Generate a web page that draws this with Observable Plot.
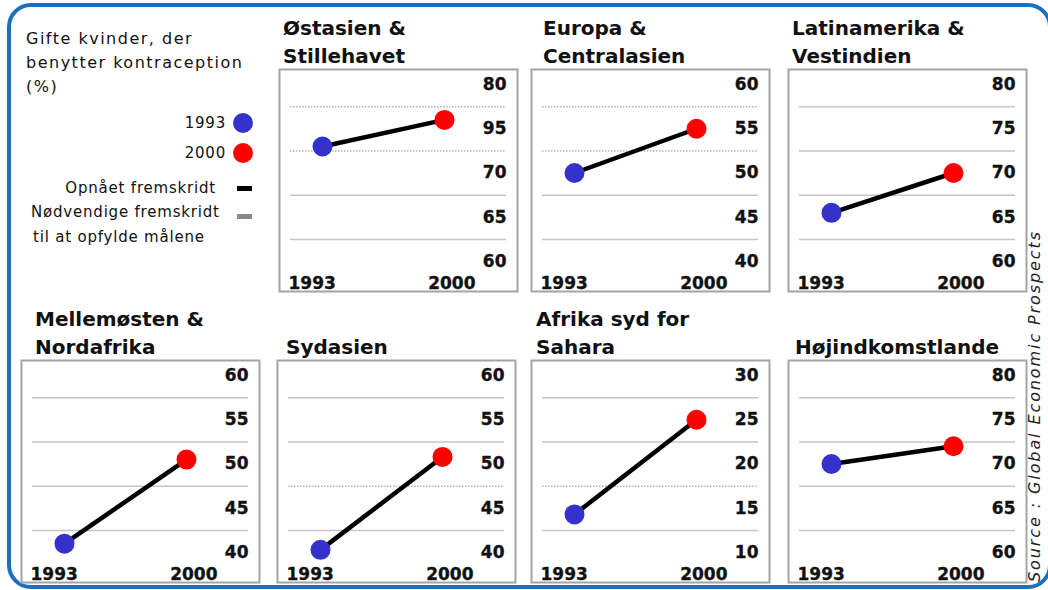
<!DOCTYPE html>
<html>
<head>
<meta charset="utf-8">
<script src="https://cdn.jsdelivr.net/npm/d3@7"></script>
<script src="https://cdn.jsdelivr.net/npm/@observablehq/plot@0.6"></script>
<style>
  html, body { margin: 0; padding: 0; }
  body { width: 1048px; height: 590px; overflow: hidden; background: #fff; position: relative; font-family: "DejaVu Sans", sans-serif; color: #111; }
  #border { position: absolute; left: 7px; top: 3px; width: 1045px; height: 586px; box-sizing: border-box; border: 4px solid #1b6fbf; border-radius: 24px; }
  .panel { position: absolute; width: 240px; height: 224px; }
  .panel svg { overflow: visible; display: block; }
  .title { position: absolute; bottom: 222px; font: bold 20px/28px "DejaVu Sans", sans-serif; white-space: pre; color: #111; }
  #legend { position: absolute; left: 0; top: 0; }
  #source { position: absolute; left: 854px; top: 397px; width: 360px; height: 18px; line-height: 18px; text-align: center; transform: rotate(-90deg); transform-origin: 50% 50%; font: italic 16px "DejaVu Sans", sans-serif; letter-spacing: 1.9px; color: #222; white-space: nowrap; }
</style>
</head>
<body>
<div id="border"></div>
<div id="legend"></div>
<div id="root"></div>
<div id="source">Source : Global Economic Prospects</div>
<script>
// ---- data ----
const regions = ["Østasien &\nStillehavet", "Europa &\nCentralasien", "Latinamerika &\nVestindien",
                 "Mellemøsten &\nNordafrika", "Sydasien", "Afrika syd for\nSahara", "Højindkomstlande"];
const years = [1993, 2000];
const values1993 = [73, 50, 65.5, 41, 40.3, 14.3, 70];
const values2000 = [76, 55, 70, 50.5, 50.8, 25, 72];
const axisMin = [60, 40, 60, 40, 40, 10, 60];
const tickLabels = [
  ["60", "65", "70", "95", "80"],
  ["40", "45", "50", "55", "60"],
  ["60", "65", "70", "75", "80"],
  ["40", "45", "50", "55", "60"],
  ["40", "45", "50", "55", "60"],
  ["10", "15", "20", "25", "30"],
  ["60", "65", "70", "75", "80"]
];
const dottedGrid = [[72.5, 77.5], [52.5, 57.5], [], [], [47.5], [17.5], []];
const legendTitle = ["Gifte kvinder, der", "benytter kontraception", "(%)"];
const legendAchieved = "Opnået fremskridt";
const legendNeeded = ["Nødvendige fremskridt", "til at opfylde målene"];

// ---- layout / style ----
const layout = [
  {left: 278, top: 68, tx: 5}, {left: 530, top: 68, tx: 13}, {left: 787, top: 68, tx: 5},
  {left: 20, top: 359, tx: 15}, {left: 276, top: 359, tx: 10}, {left: 530, top: 359, tx: 6}, {left: 787, top: 359, tx: 8}
];
const BLUE = "#3333cc", RED = "#ff0000";
const font = {fontFamily: "DejaVu Sans", fontWeight: "bold", fontSize: 17, fill: "#111", stroke: "#111", strokeWidth: 0.35};

const root = document.getElementById("root");
regions.forEach((name, i) => {
  const lo = axisMin[i], hi = lo + 20;
  const pts = years.map((yr, j) => ({year: yr, value: j === 0 ? values1993[i] : values2000[i]}));
  const ticks = d3.range(5).map(k => lo + 5 * k);
  const grid = [2.5, 7.5, 12.5, 17.5].map(g => lo + g);
  const dotted = dottedGrid[i];
  const plot = Plot.plot({
    width: 240, height: 224, margin: 0,
    style: {background: "white", overflow: "visible"},
    x: {domain: years, type: "linear", range: [44, 166], axis: null},
    y: {domain: [lo, hi], range: [193, 16], axis: null},
    color: {type: "ordinal", domain: years, range: [BLUE, RED]},
    marks: [
      Plot.ruleY(grid.filter(g => !dotted.includes(g)), {stroke: "#c6c6c6", strokeWidth: 1.5, insetLeft: 12, insetRight: 12}),
      Plot.ruleY(dotted, {stroke: "#b4b4b4", strokeWidth: 1.5, strokeDasharray: "1.5,1.5", insetLeft: 12, insetRight: 12}),
      Plot.frame({stroke: "#a4a4a4", strokeWidth: 2, inset: 1}),
      Plot.line(pts, {x: "year", y: "value", stroke: "#000", strokeWidth: 4.5}),
      Plot.dot(pts, {x: "year", y: "value", r: 10, fill: "year", stroke: null}),
      Plot.text(ticks, {y: d => d, text: (d, k) => tickLabels[i][k], frameAnchor: "right", textAnchor: "end", dx: -12, ...font}),
      Plot.text([years[0]], {x: d => d, text: d => String(d), frameAnchor: "bottom", lineAnchor: "bottom", textAnchor: "start", dx: -34, dy: -4, ...font}),
      Plot.text([years[1]], {x: d => d, text: d => String(d), frameAnchor: "bottom", lineAnchor: "bottom", textAnchor: "end", dx: 31, dy: -4, ...font})
    ]
  });
  const div = document.createElement("div");
  div.className = "panel";
  div.style.left = layout[i].left + "px";
  div.style.top = layout[i].top + "px";
  const t = document.createElement("div");
  t.className = "title";
  t.style.left = layout[i].tx + "px";
  t.textContent = name;
  div.appendChild(t);
  div.appendChild(plot);
  root.appendChild(div);
});

// ---- legend ----
const svg = d3.select("#legend").append("svg").attr("width", 275).attr("height", 260);
const lt = svg.append("g").attr("font-family", "DejaVu Sans").attr("font-size", 16).attr("letter-spacing", 1.5).attr("fill", "#111");
legendTitle.forEach((s, k) => lt.append("text").attr("x", 26).attr("y", 44 + k * 24).text(s));
const li = svg.append("g").attr("font-family", "DejaVu Sans").attr("font-size", 15).attr("letter-spacing", 0.8).attr("fill", "#111");
years.forEach((yr, k) => {
  li.append("text").attr("x", 226).attr("y", 123 + k * 30).attr("dy", "0.35em").attr("text-anchor", "end").text(String(yr));
  svg.append("circle").attr("cx", 243).attr("cy", 123 + k * 30).attr("r", 10).attr("fill", k === 0 ? BLUE : RED);
});
li.append("text").attr("x", 216).attr("y", 188).attr("dy", "0.35em").attr("text-anchor", "end").text(legendAchieved);
svg.append("rect").attr("x", 237).attr("y", 186).attr("width", 15).attr("height", 5).attr("fill", "#000");
li.append("text").attr("x", 31).attr("y", 212).attr("dy", "0.35em").text(legendNeeded[0]);
li.append("text").attr("x", 33).attr("y", 237).attr("dy", "0.35em").text(legendNeeded[1]);
svg.append("rect").attr("x", 237).attr("y", 214).attr("width", 15).attr("height", 5).attr("fill", "#8a8a8a");
</script>
</body>
</html>
